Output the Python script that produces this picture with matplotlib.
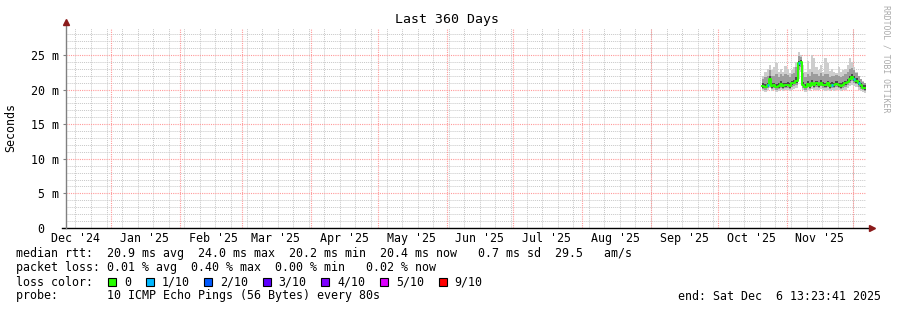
import numpy as np
import pandas as pd
import matplotlib
matplotlib.use("Agg")
import matplotlib.pyplot as plt
import matplotlib.transforms as mtransforms
from matplotlib.patches import Rectangle

# - DATA - #
t_start = pd.Timestamp("2024-12-11 13:23:41")
t_end = pd.Timestamp("2025-12-06 13:23:41")
days = pd.date_range("2025-10-21 00:00", periods=47, freq="D")

median_rtt = [20.5, 20.4, 20.6, 21.5, 20.5, 20.6, 20.4, 20.5, 20.8, 20.5, 20.6, 20.7,
              20.5, 20.9, 21.0, 21.2, 23.8, 24.0, 20.7, 20.4, 20.8, 20.5, 21.0, 20.6,
              20.9, 20.6, 21.0, 20.7, 20.6, 20.9, 20.5, 20.7, 20.6, 20.8, 20.6, 20.5,
              20.7, 20.9, 21.1, 21.6, 21.8, 21.5, 21.3, 20.9, 20.6, 20.3, 20.2]
ping_max = [22.0, 22.5, 23.0, 23.5, 22.8, 23.2, 23.8, 22.5, 23.0, 22.6, 23.4, 23.0,
            22.4, 22.8, 23.3, 24.0, 25.5, 25.0, 23.5, 22.6, 24.2, 23.0, 25.0, 24.5,
            23.2, 22.8, 23.6, 22.5, 24.5, 23.8, 22.7, 23.0, 22.6, 22.4, 23.2, 22.5,
            22.8, 23.0, 23.5, 24.5, 24.0, 23.2, 22.6, 22.0, 21.6, 21.2, 21.0]
ping_p80 = [21.6, 21.8, 22.0, 22.8, 21.9, 22.0, 22.3, 21.8, 22.2, 21.9, 22.2, 22.1,
            21.8, 22.2, 22.4, 23.2, 24.8, 24.7, 22.4, 21.8, 22.3, 21.9, 22.6, 22.3,
            22.2, 22.0, 22.4, 22.0, 22.2, 22.3, 21.8, 22.0, 21.9, 22.1, 22.0, 21.8,
            22.0, 22.2, 22.5, 23.0, 23.1, 22.8, 22.4, 22.0, 21.6, 21.1, 20.9]
ping_p65 = [20.9, 20.8, 21.0, 21.9, 20.9, 21.0, 20.8, 20.9, 21.2, 20.9, 21.0, 21.1,
            20.9, 21.3, 21.4, 21.8, 24.2, 24.3, 21.1, 20.8, 21.2, 20.9, 21.4, 21.0,
            21.3, 21.0, 21.4, 21.1, 21.0, 21.3, 20.9, 21.1, 21.0, 21.2, 21.0, 20.9,
            21.1, 21.3, 21.5, 22.0, 22.2, 21.9, 21.7, 21.3, 21.0, 20.7, 20.6]
ping_p35 = [20.3, 20.2, 20.4, 21.2, 20.3, 20.4, 20.2, 20.3, 20.6, 20.3, 20.4, 20.5,
            20.3, 20.7, 20.8, 20.9, 23.4, 23.7, 20.5, 20.2, 20.6, 20.3, 20.8, 20.4,
            20.7, 20.4, 20.8, 20.5, 20.4, 20.7, 20.3, 20.5, 20.4, 20.6, 20.4, 20.3,
            20.5, 20.7, 20.9, 21.3, 21.5, 21.2, 21.0, 20.7, 20.4, 20.1, 20.0]
ping_p20 = [20.1, 20.0, 20.2, 20.8, 20.1, 20.2, 20.0, 20.1, 20.3, 20.1, 20.2, 20.3,
            20.1, 20.4, 20.5, 20.7, 22.8, 23.2, 20.3, 20.0, 20.4, 20.1, 20.5, 20.2,
            20.4, 20.2, 20.5, 20.3, 20.2, 20.4, 20.1, 20.3, 20.2, 20.4, 20.2, 20.1,
            20.3, 20.4, 20.6, 21.0, 21.2, 21.0, 20.8, 20.4, 20.1, 19.9, 19.8]
ping_min = [19.8, 19.7, 19.9, 20.2, 19.8, 19.9, 19.7, 19.8, 19.9, 19.8, 19.9, 20.0,
            19.8, 20.0, 20.1, 20.3, 21.5, 22.5, 19.9, 19.7, 20.0, 19.8, 20.1, 19.9,
            20.0, 19.9, 20.1, 19.9, 19.8, 20.0, 19.8, 19.9, 19.8, 20.0, 19.9, 19.8,
            19.9, 20.0, 20.2, 20.5, 20.7, 20.5, 20.4, 20.0, 19.8, 19.6, 19.5]
loss_count = [0, 0, 1, 0, 0, 0, 0, 0, 0, 0, 0, 0, 0, 0, 0, 0, 1, 0, 0, 0, 0, 0, 0, 0,
              0, 0, 0, 0, 0, 0, 0, 1, 0, 0, 0, 0, 0, 0, 0, 0, 0, 1, 0, 1, 0, 0, 0]

y_ticks = [0, 5, 10, 15, 20, 25]
y_labels = ["0", "5 m", "10 m", "15 m", "20 m", "25 m"]
loss_labels = ["0", "1/10", "2/10", "3/10", "4/10", "5/10", "9/10"]
loss_colors = ["#26ff00", "#00b8ff", "#0059ff", "#5e00ff", "#7e00ff", "#dd00ff", "#ff0000"]

legend_lines = [
    "median rtt:  20.9 ms avg  24.0 ms max  20.2 ms min  20.4 ms now   0.7 ms sd  29.5   am/s",
    "packet loss: 0.01 % avg  0.40 % max  0.00 % min   0.02 % now",
    "loss color:",
    "probe:       10 ICMP Echo Pings (56 Bytes) every 80s",
]
end_text = "end: Sat Dec  6 13:23:41 2025"

# - PLOTTING - #
W, H = 897, 310
mono = "DejaVu Sans Mono"
fs = 8.4
plt.rcParams["font.family"] = mono

fig = plt.figure(figsize=(W / 100, H / 100), dpi=100)
fig.patch.set_facecolor("white")
ax = fig.add_axes([65.6 / W, (H - 228) / H, 800 / W, 200 / H])
ax.set_xlim(t_start, t_end)
ax.set_ylim(0, 200 / 6.92)
for s in ax.spines.values():
    s.set_visible(False)

# grid
minor_c = "#c8c8c8"
major_c = "#ff9a9a"
dot = (0, (1, 1))
for w in pd.date_range("2024-12-16", t_end, freq="7D"):
    ax.axvline(w, color=minor_c, lw=0.7, ls=dot, zorder=0)
for v in np.arange(1, 29):
    if v % 5:
        ax.axhline(v, color=minor_c, lw=0.7, ls=dot, zorder=0)
for m in pd.date_range("2025-01-01", t_end, freq="MS"):
    ax.axvline(m, color=major_c, lw=0.8, ls=dot, zorder=0.5)
for v in y_ticks[1:]:
    ax.axhline(v, color=major_c, lw=0.8, ls=dot, zorder=0.5)

# smoke
tt = list(days) + [t_end]
def ext(a):
    return list(a) + [a[-1]]
ax.fill_between(tt, ext(ping_min), ext(ping_max), step="post", color="#cdcdcd", lw=0, zorder=1)
ax.fill_between(tt, ext(ping_p20), ext(ping_p80), step="post", color="#9c9c9c", lw=0, zorder=2)
ax.fill_between(tt, ext(ping_p35), ext(ping_p65), step="post", color="#4a4a4a", lw=0, zorder=3)

# median coloured by loss
ax.step(tt, ext(median_rtt), where="post", color=loss_colors[0], lw=1.4, zorder=4)
for i, lc in enumerate(loss_count):
    if lc:
        ax.hlines(median_rtt[i], tt[i], tt[i + 1], color=loss_colors[lc], lw=1.8, zorder=5)

# axes lines with arrows
ax.plot([-0.005, 1.008], [0, 0], transform=ax.transAxes, color="black", lw=1, clip_on=False, zorder=6)
ax.plot([0, 0], [0, 1.03], transform=ax.transAxes, color="#808080", lw=1, clip_on=False, zorder=6)
ax.plot([1.008], [0], transform=ax.transAxes, marker=">", ms=4, color="#8b1a1a", clip_on=False, zorder=7)
ax.plot([0], [1.03], transform=ax.transAxes, marker="^", ms=4, color="#8b1a1a", clip_on=False, zorder=7)

# ticks
ax.set_yticks(y_ticks)
ax.set_yticklabels(y_labels, fontsize=fs)
ax.tick_params(axis="y", length=2, pad=3, color="#808080")
# the "0" label sits where the digits of the other labels sit (no unit)
zero_lab = ax.get_yticklabels()[0]
zero_lab.set_transform(zero_lab.get_transform() +
                       mtransforms.ScaledTranslation(-0.14, 0, fig.dpi_scale_trans))
mids = [pd.Timestamp(d.year, d.month, 16) for d in pd.date_range("2024-12-01", "2025-11-01", freq="MS")]
ax.set_xticks(mids)
ax.set_xticklabels([d.strftime("%b '%y") for d in mids], fontsize=fs)
ax.tick_params(axis="x", length=0, pad=3)

# texts
def px(x, y):
    return x / W, 1 - y / H

fig.text(*px(447, 19), "Last 360 Days", ha="center", va="center", fontsize=9.5)
fig.text(*px(11, 127), "Seconds", ha="center", va="center", rotation=90, fontsize=fs)
fig.text(*px(886, 59), "RRDTOOL / TOBI OETIKER", ha="center", va="center", rotation=270,
         fontsize=5.9, color="#aaaaaa")

cw = 7.03
for k, line in enumerate(legend_lines):
    fig.text(*px(16, 254 + 14 * k), line, ha="left", va="center", fontsize=fs)
fig.text(*px(881, 296), end_text, ha="right", va="center", fontsize=fs)

bx = 108
for lab, col in zip(loss_labels, loss_colors):
    fig.add_artist(Rectangle(px(bx, 286), 8 / W, 8 / H, transform=fig.transFigure,
                             facecolor=col, edgecolor="black", lw=0.8))
    fig.text(*px(bx + 16, 282), lab, ha="left", va="center", fontsize=fs)
    bx = bx + 16 + len(lab) * cw + 14.5

fig.savefig("out.png", dpi=100)
